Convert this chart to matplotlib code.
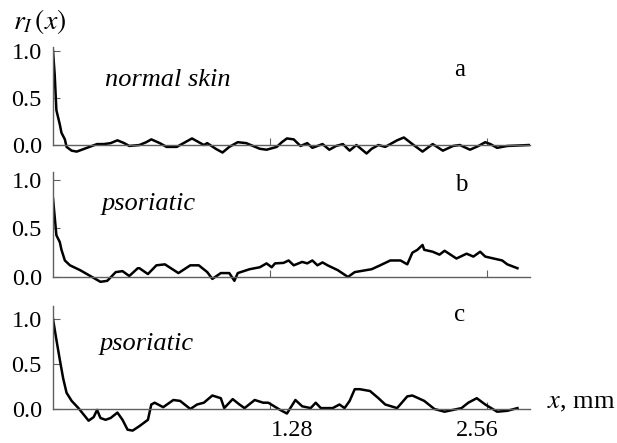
import matplotlib
matplotlib.use("Agg")
import matplotlib.pyplot as plt
import matplotlib.transforms as mtransforms
from matplotlib import font_manager
from matplotlib.font_manager import FontProperties
import numpy as np

plt.rcParams['font.family'] = ['serif']
plt.rcParams['font.serif'] = ['Liberation Serif', 'DejaVu Serif']
plt.rcParams['mathtext.fontset'] = 'stix'

# lag x in mm, correlation r_I(x)
x_a = [0.00, 0.01, 0.02, 0.04, 0.05, 0.07, 0.08, 0.11, 0.14, 0.20, 0.26, 0.30,
       0.34, 0.38, 0.42, 0.45, 0.51, 0.55, 0.58, 0.63, 0.67, 0.73, 0.78, 0.82,
       0.86, 0.89, 0.91, 0.96, 1.00, 1.04, 1.09, 1.14, 1.18, 1.22, 1.26, 1.32,
       1.35, 1.38, 1.42, 1.46, 1.50, 1.53, 1.59, 1.63, 1.67, 1.71, 1.75, 1.79,
       1.85, 1.88, 1.92, 1.96, 1.99, 2.03, 2.07, 2.12, 2.18, 2.24, 2.30, 2.36,
       2.40, 2.46, 2.51, 2.55, 2.58, 2.62, 2.68, 2.81]
r_a = [1.00, 0.75, 0.37, 0.22, 0.13, 0.06, -0.02, -0.06, -0.07, -0.03, 0.01, 0.01,
       0.02, 0.05, 0.02, -0.01, 0.00, 0.03, 0.06, 0.02, -0.02, -0.02, 0.03, 0.07,
       0.03, 0.00, 0.02, -0.04, -0.08, -0.02, 0.03, 0.02, -0.01, -0.04, -0.05, -0.02,
       0.03, 0.07, 0.06, -0.01, 0.02, -0.03, 0.01, -0.05, -0.01, 0.01, -0.06, 0.00,
       -0.09, -0.04, 0.00, -0.02, 0.01, 0.05, 0.08, 0.01, -0.07, 0.01, -0.06, -0.01,
       0.00, -0.05, -0.01, 0.03, 0.01, -0.03, -0.01, 0.00]

x_b = [0.00, 0.01, 0.02, 0.04, 0.05, 0.07, 0.10, 0.16, 0.22, 0.28, 0.32, 0.37,
       0.41, 0.45, 0.50, 0.51, 0.56, 0.61, 0.66, 0.74, 0.81, 0.86, 0.91, 0.94,
       0.99, 1.04, 1.07, 1.09, 1.16, 1.22, 1.26, 1.29, 1.31, 1.36, 1.39, 1.42,
       1.47, 1.50, 1.53, 1.56, 1.59, 1.62, 1.68, 1.74, 1.78, 1.88, 1.93, 1.99,
       2.05, 2.09, 2.12, 2.15, 2.18, 2.19, 2.24, 2.28, 2.31, 2.38, 2.44, 2.48,
       2.52, 2.55, 2.60, 2.65, 2.68, 2.74]
r_b = [0.81, 0.62, 0.43, 0.36, 0.28, 0.17, 0.12, 0.07, 0.01, -0.05, -0.04, 0.05,
       0.06, 0.01, 0.09, 0.09, 0.03, 0.12, 0.13, 0.04, 0.12, 0.12, 0.05, -0.02,
       0.04, 0.04, -0.04, 0.04, 0.08, 0.10, 0.14, 0.10, 0.14, 0.145, 0.17, 0.12,
       0.155, 0.14, 0.17, 0.12, 0.15, 0.12, 0.07, 0.00, 0.05, 0.08, 0.12, 0.17,
       0.17, 0.13, 0.25, 0.28, 0.33, 0.28, 0.26, 0.23, 0.27, 0.19, 0.24, 0.21,
       0.26, 0.21, 0.19, 0.17, 0.13, 0.09]

x_c = [0.00, 0.02, 0.04, 0.06, 0.08, 0.11, 0.15, 0.18, 0.21, 0.24, 0.26, 0.28,
       0.31, 0.34, 0.38, 0.41, 0.44, 0.47, 0.51, 0.56, 0.58, 0.60, 0.65, 0.71,
       0.75, 0.81, 0.85, 0.89, 0.94, 0.99, 1.01, 1.06, 1.10, 1.13, 1.19, 1.24,
       1.27, 1.34, 1.38, 1.43, 1.47, 1.52, 1.55, 1.58, 1.65, 1.69, 1.72, 1.75,
       1.78, 1.81, 1.87, 1.92, 1.96, 2.03, 2.09, 2.12, 2.19, 2.25, 2.31, 2.41,
       2.45, 2.50, 2.55, 2.62, 2.68, 2.74]
r_c = [1.00, 0.77, 0.55, 0.34, 0.18, 0.09, 0.01, -0.06, -0.13, -0.09, -0.01, -0.10,
       -0.12, -0.10, -0.04, -0.12, -0.23, -0.24, -0.19, -0.12, 0.05, 0.07, 0.02, 0.10,
       0.09, 0.00, 0.05, 0.07, 0.15, 0.12, 0.01, 0.11, 0.05, 0.01, 0.10, 0.07,
       0.07, -0.01, -0.05, 0.10, 0.03, 0.01, 0.07, 0.01, 0.01, 0.05, 0.01, 0.09,
       0.22, 0.22, 0.20, 0.12, 0.05, 0.01, 0.14, 0.15, 0.09, 0.00, -0.03, 0.01,
       0.07, 0.12, 0.05, -0.03, -0.02, 0.01]

y_ticks = [0.0, 0.5, 1.0]
y_ticklabels = ['0.0', '0.5', '1.0']
x_ticks = [1.28, 2.56]
x_ticklabels = ['1.28', '2.56']

W, H = 617, 443

# pin the Times-like faces by file
rm_file = font_manager.findfont(FontProperties(family='Liberation Serif'))
it_file = font_manager.findfont(FontProperties(family='Liberation Serif', style='italic'))


def rm(size):
    return FontProperties(fname=rm_file, size=size)


def it(size):
    return FontProperties(fname=it_file, size=size)


def fx(px):
    return px / W


def fy(py):
    return 1 - py / H


def panel(rect, x, r, ylim, top, show_xlabels):
    ax = fig.add_axes(rect)
    ax.plot(x, r, color='black', lw=1.8, solid_joinstyle='round')
    ax.set_xlim(0, 2.814)
    ax.set_ylim(*ylim)
    for s in ['top', 'right']:
        ax.spines[s].set_visible(False)
    ax.spines['bottom'].set_position(('data', 0))
    ax.spines['left'].set_bounds(0, top)
    for s in ['bottom', 'left']:
        ax.spines[s].set_color('#606060')
        ax.spines[s].set_linewidth(1.0)
    ax.set_yticks(y_ticks)
    ax.set_yticklabels(y_ticklabels, fontproperties=rm(17.5))
    ax.set_xticks(x_ticks)
    ax.tick_params(axis='both', direction='in', length=5, width=0.8,
                   color='#606060', pad=3)
    ax.tick_params(axis='y', pad=8)
    if show_xlabels:
        ax.set_xticklabels(x_ticklabels, fontproperties=rm(17.5))
        ax.tick_params(axis='x', pad=8)
        # labels in the original sit a bit off their ticks
        shifts = [22, -10]
        for lab, dx in zip(ax.get_xticklabels(), shifts):
            lab.set_transform(lab.get_transform() + mtransforms.ScaledTranslation(dx / 100, 0, fig.dpi_scale_trans))
    else:
        ax.set_xticklabels([])
    return ax


fig = plt.figure(figsize=(6.17, 4.43), dpi=100)

x0 = fx(53)
w = fx(530) - x0

# panel a: 1.0 at y=51px, 0 at y=145px
ax_a = panel([x0, fy(156.3), w, (156.3 - 46.3) / H], x_a, r_a, (-0.12, 1.05), 1.04, False)
# panel b: 1.0 at 180px, 0 at 277px
ax_b = panel([x0, fy(288.6), w, (288.6 - 172.2) / H], x_b, r_b, (-0.12, 1.08), 1.08, False)
# panel c: 1.0 at 319px, 0 at 409px
ax_c = panel([x0, fy(436), w, (436 - 305.5) / H], x_c, r_c, (-0.30, 1.15), 1.15, True)

fig.text(fx(13), fy(22), r'$r_I\,(x)$', fontsize=20, va='center', ha='left')
fig.text(fx(547), fy(408), r'$x$, mm', fontsize=19, va='baseline', ha='left')

fig.text(fx(168), fy(80), 'normal skin', fontproperties=it(19), ha='center', va='center')
fig.text(fx(149), fy(204), 'psoriatic', fontproperties=it(19), ha='center', va='center')
fig.text(fx(147), fy(344), 'psoriatic', fontproperties=it(19), ha='center', va='center')

fig.text(fx(460), fy(70), 'a', fontproperties=rm(18), ha='center', va='center')
fig.text(fx(461), fy(185), 'b', fontproperties=rm(18), ha='center', va='center')
fig.text(fx(460), fy(315), 'c', fontproperties=rm(18), ha='center', va='center')

fig.savefig('out.png', dpi=100)
